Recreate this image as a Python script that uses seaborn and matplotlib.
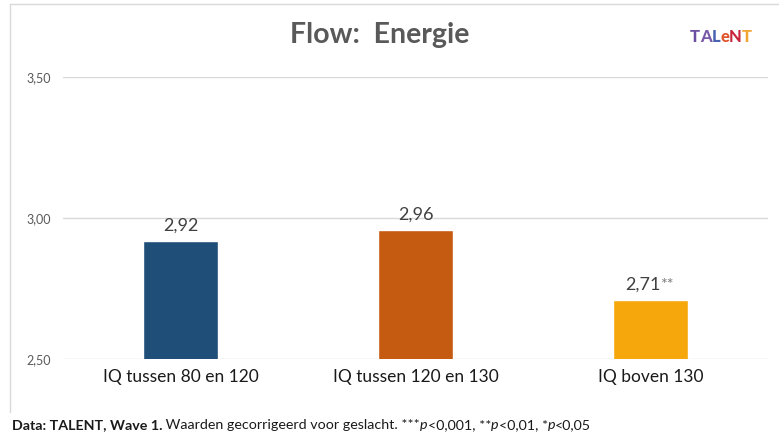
import matplotlib
matplotlib.use("Agg")
import matplotlib.pyplot as plt
import seaborn as sns
import pandas as pd
from matplotlib.lines import Line2D

# Data
categories = ["IQ tussen 80 en 120", "IQ tussen 120 en 130", "IQ boven 130"]
values = [2.92, 2.96, 2.71]
value_labels = ["2,92", "2,96", "2,71"]
significance = ["", "", "**"]
bar_colors = ["#1F4E79", "#C55A11", "#F5A70B"]
y_ticks = [2.50, 3.00, 3.50]
y_tick_labels = ["2,50", "3,00", "3,50"]

df = pd.DataFrame({"groep": categories, "score": values})

sns.set_theme(style="white")
plt.rcParams["font.family"] = ["Lato", "DejaVu Sans"]

fig = plt.figure(figsize=(7.79, 4.36), dpi=100)
W, H = 779, 436
ax = fig.add_axes([63 / W, 1 - 359 / H, (768 - 63) / W, (359 - 77.5) / H])

sns.barplot(data=df, x="groep", y="score", hue="groep", palette=bar_colors,
            width=0.315, legend=False, ax=ax, saturation=1, zorder=3)

ax.set_ylim(2.5, 3.5)
ax.set_xlim(-0.5, 2.5)
ax.set_yticks(y_ticks)
ax.set_yticklabels(y_tick_labels)
for t in y_ticks:
    ax.axhline(t, color="#D9D9D9", lw=1.0, zorder=1)
for s in ax.spines.values():
    s.set_visible(False)
ax.tick_params(axis="y", length=0, pad=9, labelsize=9, labelcolor="#595959")
ax.tick_params(axis="x", length=0, pad=7, labelsize=12.5, labelcolor="#1A1A1A")
ax.set_xlabel("")
ax.set_ylabel("")

# Value labels above bars
for i, (v, lab, sig) in enumerate(zip(values, value_labels, significance)):
    if sig:
        ax.annotate(lab, (i, v), xytext=(7, 5), textcoords="offset points",
                    ha="right", va="bottom", fontsize=13, color="#404040")
        ax.annotate(sig, (i, v), xytext=(7, 6), textcoords="offset points",
                    ha="left", va="bottom", fontsize=11.5, color="#7F7F7F")
    else:
        ax.annotate(lab, (i, v), xytext=(0, 5), textcoords="offset points",
                    ha="center", va="bottom", fontsize=13, color="#404040")

# Title
fig.text(380 / W, 1 - 35 / H, "Flow:  Energie", ha="center", va="center",
         fontsize=20.5, fontweight="bold", color="#595959")

renderer = fig.canvas.get_renderer()


def text_run(x_px, y_px, pieces, gap=0.0):
    """Draw consecutive text pieces left to right, each with its own style."""
    x = x_px
    for s, kw in pieces:
        t = fig.text(x / W, 1 - y_px / H, s, ha="left", va="center", **kw)
        bb = t.get_window_extent(renderer=renderer)
        x += bb.width + gap


# Logo
logo_letters = ["T", "A", "L", "e", "N", "T"]
logo_colors = ["#6B4FA0", "#7A5AA8", "#4A63B0", "#E0552B", "#C8263C", "#F2A431"]
text_run(690, 37, [(l, dict(fontsize=12, fontweight="black", color=c))
                   for l, c in zip(logo_letters, logo_colors)], gap=0.0)

# Frame lines
fig.add_artist(Line2D([10 / W, 10 / W], [1 - 4 / H, 1 - 412 / H],
                      transform=fig.transFigure, color="#D9D9D9", lw=1))
fig.add_artist(Line2D([10 / W, 1.0], [1 - 4 / H, 1 - 4 / H],
                      transform=fig.transFigure, color="#D9D9D9", lw=1))

# Footnote
fn = dict(fontsize=10.3, color="#1A1A1A")
fn_b = dict(fn, fontweight="bold")
fn_i = dict(fn, fontstyle="italic")
text_run(12, 425, [
    ("Data: TALENT, Wave 1.", fn_b),
    (" Waarden gecorrigeerd voor geslacht. ***", fn),
    ("p", fn_i),
    ("<0,001, **", fn),
    ("p", fn_i),
    ("<0,01, *", fn),
    ("p", fn_i),
    ("<0,05", fn),
])

fig.savefig("out.png", dpi=100)
